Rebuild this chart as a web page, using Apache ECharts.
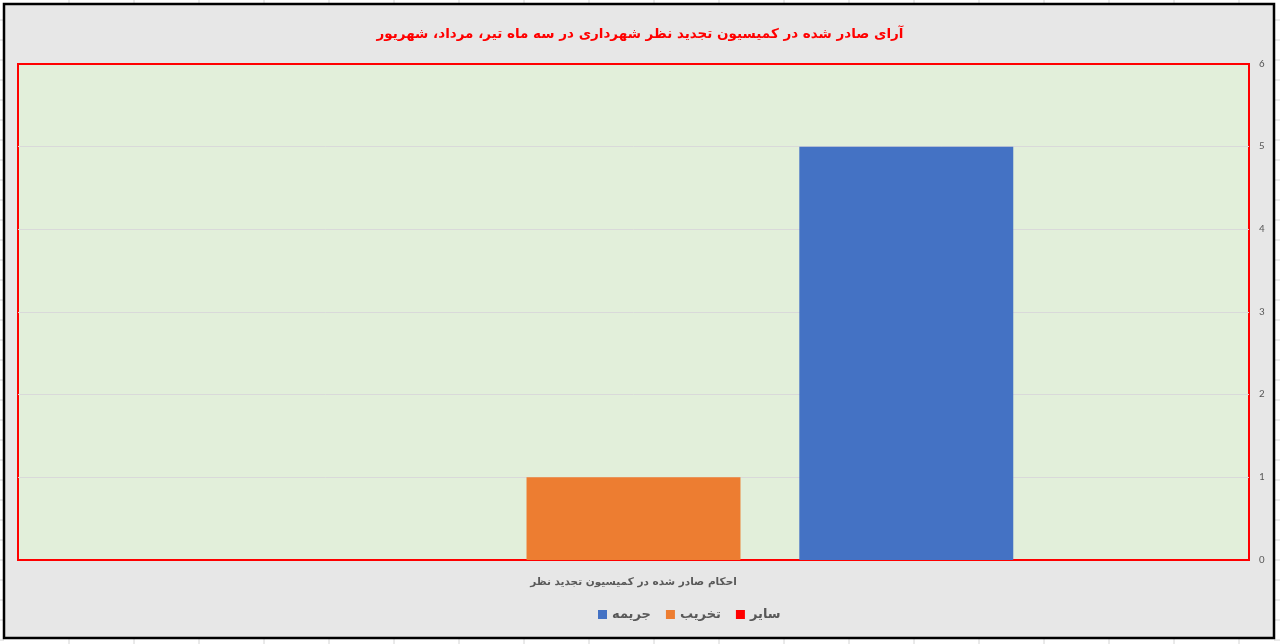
<!DOCTYPE html>
<html>
<head>
<meta charset="utf-8">
<script src="https://cdn.jsdelivr.net/npm/echarts@6/dist/echarts.min.js"></script>
<style>
html,body{margin:0;padding:0;background:#fff;}
#c{width:1280px;height:644px;}
</style>
</head>
<body>
<div id="c"></div>
<script>
var titleText = 'آرای صادر شده در کمیسیون تجدید نظر شهرداری در سه ماه تیر، مرداد، شهریور';
var categories = ['احکام صادر شده در کمیسیون تجدید نظر'];
var seriesNames = ['سایر', 'تخریب', 'جریمه'];
var seriesColors = ['#ff0000', '#ed7d31', '#4472c4'];
var valuesOther = [0];
var valuesDemolition = [1];
var valuesFine = [5];
var yTicks = [0, 1, 2, 3, 4, 5, 6];

var seriesValues = [valuesOther, valuesDemolition, valuesFine];
var font = 'DejaVu Sans';

var chart = echarts.init(document.getElementById('c'), null, {renderer: 'canvas'});

// spreadsheet grid decoration outside the chart frame
var deco = [];
for (var y = 20; y < 644; y += 20) {
  deco.push({type: 'line', shape: {x1: 0, y1: y, x2: 4, y2: y}, style: {stroke: '#d4d4d4', lineWidth: 1}, z: -2});
  deco.push({type: 'line', shape: {x1: 1274, y1: y, x2: 1280, y2: y}, style: {stroke: '#d4d4d4', lineWidth: 1}, z: -2});
}
for (var x = 69; x < 1280; x += 65) {
  deco.push({type: 'line', shape: {x1: x, y1: 0, x2: x, y2: 4}, style: {stroke: '#d4d4d4', lineWidth: 1}, z: -2});
  deco.push({type: 'line', shape: {x1: x, y1: 638, x2: x, y2: 644}, style: {stroke: '#d4d4d4', lineWidth: 1}, z: -2});
}
deco.push({type: 'rect', shape: {x: 4, y: 4, width: 1270, height: 634}, style: {fill: '#e7e7e7', stroke: '#000', lineWidth: 2.5}, z: -1});

chart.setOption({
  backgroundColor: '#ffffff',
  animation: false,
  graphic: deco,
  title: {
    text: titleText,
    left: 'center',
    top: 22,
    textStyle: {color: '#ff0000', fontSize: 13.5, fontWeight: 'bold', fontFamily: font}
  },
  legend: {
    data: [seriesNames[2], seriesNames[1], seriesNames[0]],
    left: 593,
    top: 603,
    itemWidth: 9,
    itemHeight: 9,
    itemGap: 15,
    icon: 'rect',
    textStyle: {color: '#595959', fontSize: 13, fontWeight: 'bold', fontFamily: font}
  },
  grid: {
    left: 18, right: 31, top: 64, bottom: 84,
    show: true,
    backgroundColor: '#e2efda',
    borderColor: '#ff0000',
    borderWidth: 2,
    containLabel: false
  },
  xAxis: {
    type: 'category',
    data: categories,
    axisLine: {show: false},
    axisTick: {show: false},
    splitLine: {show: false},
    axisLabel: {color: '#595959', fontSize: 10.5, fontWeight: 'bold', fontFamily: font, margin: 17}
  },
  yAxis: {
    type: 'value',
    position: 'right',
    min: yTicks[0],
    max: yTicks[yTicks.length - 1],
    interval: 1,
    axisLine: {show: false},
    axisTick: {show: false},
    axisLabel: {color: '#595959', fontSize: 11, fontFamily: 'Carlito, Liberation Sans', margin: 10},
    splitLine: {showMinLine: false, showMaxLine: false, lineStyle: {color: '#d9d9d9', width: 1}}
  },
  series: seriesNames.map(function (n, i) {
    return {
      name: n,
      type: 'bar',
      data: seriesValues[i],
      barGap: '27.5%',
      barCategoryGap: '38.3%',
      itemStyle: {color: seriesColors[i]},
      z: 3
    };
  })
});
</script>
</body>
</html>
